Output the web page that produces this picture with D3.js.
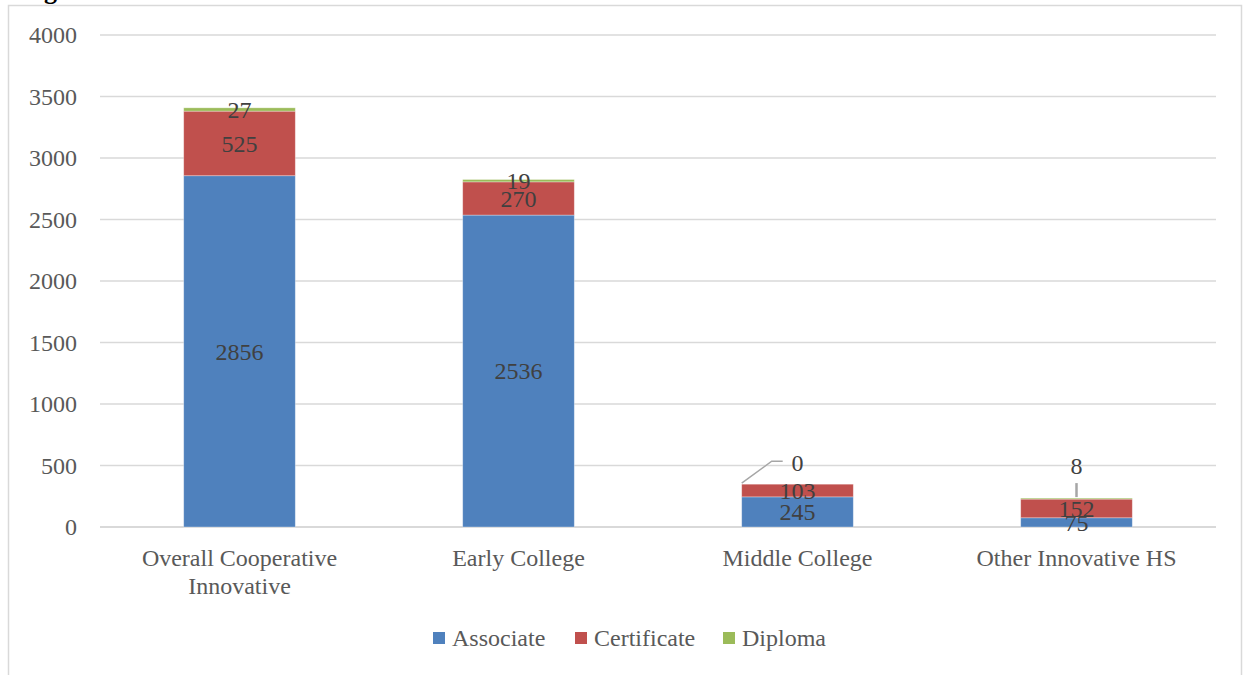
<!DOCTYPE html>
<html>
<head>
<meta charset="utf-8">
<script src="https://cdn.jsdelivr.net/npm/d3@7"></script>
<style>
  html, body { margin: 0; padding: 0; background: #fff; }
  svg { display: block; }
  text { font-family: "Liberation Serif", "DejaVu Serif", serif; }
</style>
</head>
<body>
<div id="chart"></div>
<script>
// ---- Data ----
const categories = [['Overall Cooperative', 'Innovative'], ['Early College'], ['Middle College'], ['Other Innovative HS']];
const seriesNames = ['Associate', 'Certificate', 'Diploma'];
const associate = [2856, 2536, 245, 75];
const certificate = [525, 270, 103, 152];
const diploma = [27, 19, 0, 8];
const yTicks = [0, 500, 1000, 1500, 2000, 2500, 3000, 3500, 4000];

const colors = ['#4f81bd', '#c0504d', '#9bbb59'];
const W = 1247, H = 675;
const margin = { top: 35, right: 31, bottom: 148, left: 100 };
const innerWidth = W - margin.left - margin.right;
const innerHeight = H - margin.top - margin.bottom;

const svg = d3.select('#chart').append('svg').attr('width', W).attr('height', H);

// outer frame (bottom runs off the page)
svg.append('rect')
  .attr('x', 8.5).attr('y', 5.5).attr('width', 1233).attr('height', 700)
  .attr('fill', 'none').attr('stroke', '#d9d9d9').attr('stroke-width', 1.5);

// clipped title descender peeking in at the top
svg.append('text')
  .attr('x', 44).attr('y', -1)
  .attr('font-family', '"Liberation Sans", Arial, sans-serif')
  .attr('font-weight', 'bold').attr('font-size', 26).attr('fill', '#000')
  .text('g');

const g = svg.append('g').attr('transform', `translate(${margin.left},${margin.top})`);

const rows = categories.map((c, i) => ({ cat: c, key: i, Associate: associate[i], Certificate: certificate[i], Diploma: diploma[i] }));
const stack = d3.stack().keys(seriesNames)(rows);

const x = d3.scaleBand().domain(rows.map(d => d.key)).range([0, innerWidth]).paddingInner(0.6).paddingOuter(0.3);
const y = d3.scaleLinear().domain([0, 4000]).range([innerHeight, 0]);

// ---- Grid ----
g.append('g').selectAll('line').data(yTicks).join('line')
  .attr('x1', 0).attr('x2', innerWidth)
  .attr('y1', d => y(d)).attr('y2', d => y(d))
  .attr('stroke', '#d9d9d9').attr('stroke-width', d => d === 0 ? 2 : 1.5);

// ---- Y axis ----
g.append('g')
  .call(d3.axisLeft(y).tickValues(yTicks).tickSize(0).tickPadding(23).tickFormat(d3.format('d')))
  .call(a => a.select('.domain').remove())
  .call(a => a.selectAll('text')
    .attr('font-family', '"Liberation Serif", serif')
    .attr('font-size', 24).attr('fill', '#595959'));

// ---- X axis ----
const xAxis = g.append('g').attr('transform', `translate(0,${innerHeight})`)
  .call(d3.axisBottom(x).tickSize(0).tickFormat(''))
  .call(a => a.select('.domain').remove());
xAxis.selectAll('.tick').each(function (k) {
  const t = d3.select(this).select('text')
    .attr('font-family', '"Liberation Serif", serif')
    .attr('font-size', 24).attr('fill', '#595959')
    .attr('y', 0).attr('dy', null);
  categories[k].forEach((line, j) => {
    t.append('tspan').attr('x', 0).attr('y', 39 + j * 28).text(line);
  });
});

// ---- Bars ----
const layers = g.selectAll('.layer').data(stack).join('g')
  .attr('class', 'layer').attr('fill', (_, i) => colors[i]);

layers.selectAll('rect').data(d => d).join('rect')
  .attr('x', d => x(d.data.key))
  .attr('width', x.bandwidth())
  .attr('y', d => y(d[1]))
  .attr('height', d => y(d[0]) - y(d[1]))
  .attr('stroke', '#ffffff').attr('stroke-opacity', 0.4).attr('stroke-width', 0.8);

// ---- Data labels ----
const labelOffsets = {
  // custom positions for the small diploma values with leader lines
  'Diploma-2': { dy: -22, leader: 'bend' },
  'Diploma-3': { dy: -32, leader: 'vertical' }
};

stack.forEach(layer => {
  layer.forEach((d, i) => {
    const key = `${layer.key}-${i}`;
    const cx = x(d.data.key) + x.bandwidth() / 2;
    let cy = (y(d[0]) + y(d[1])) / 2;
    const off = labelOffsets[key];
    if (off) {
      const top = y(d[1]);
      cy = top + off.dy;
      if (off.leader === 'bend') {
        const left = x(d.data.key);
        g.append('path')
          .attr('d', `M${left},${top - 1}L${left + 30},${cy - 1}L${left + 41},${cy - 1}`)
          .attr('fill', 'none').attr('stroke', '#a6a6a6').attr('stroke-width', 1.5);
      } else {
        g.append('line')
          .attr('x1', cx).attr('x2', cx)
          .attr('y1', top - 1).attr('y2', top - 15)
          .attr('stroke', '#a6a6a6').attr('stroke-width', 2.5);
      }
    }
    g.append('text')
      .attr('x', cx).attr('y', cy).attr('dy', '0.35em')
      .attr('text-anchor', 'middle')
      .attr('font-size', 24).attr('fill', '#404040')
      .text(d.data[layer.key]);
  });
});

// ---- Legend ----
const legend = svg.append('g').attr('transform', 'translate(0,638)');
const legendX = [433, 575, 723];
seriesNames.forEach((name, i) => {
  const lg = legend.append('g').attr('transform', `translate(${legendX[i]},0)`);
  lg.append('rect').attr('x', 0).attr('y', -6).attr('width', 12).attr('height', 12).attr('fill', colors[i]);
  lg.append('text').attr('x', 19).attr('y', 0).attr('dy', '0.35em')
    .attr('font-size', 24).attr('fill', '#595959').text(name);
});
</script>
</body>
</html>
